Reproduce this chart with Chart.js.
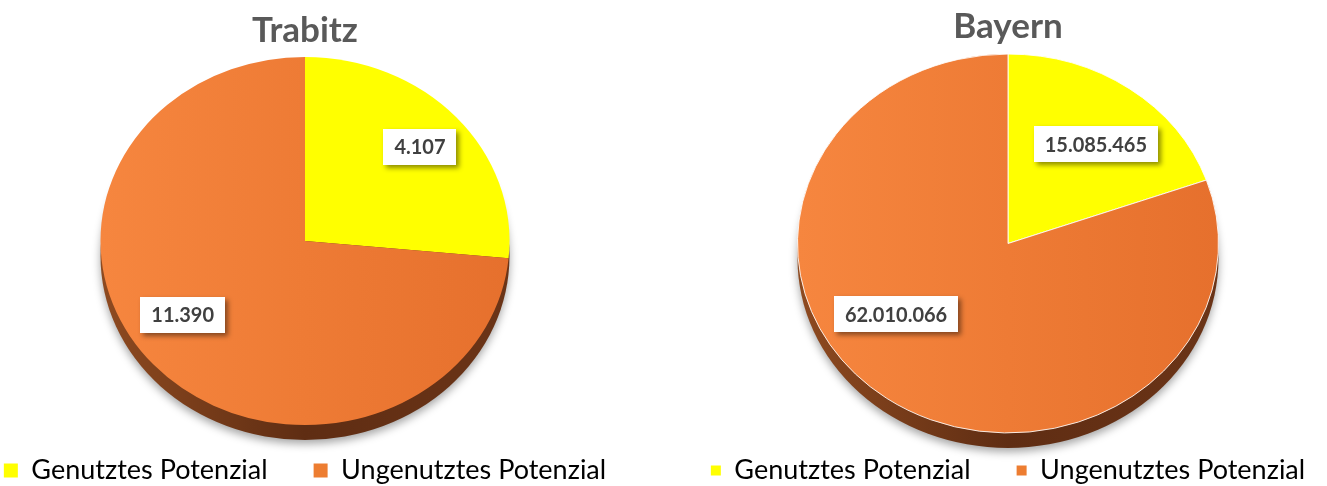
<!DOCTYPE html>
<html><head><meta charset="utf-8">
<script src="https://cdn.jsdelivr.net/npm/chart.js@4.4.1/dist/chart.umd.min.js"></script>
<style>
html,body{margin:0;padding:0;background:#fff;}
#wrap{position:relative;width:1327px;height:486px;overflow:hidden;}
#c1{position:absolute;left:-55px;top:0;}
#c2{position:absolute;left:648px;top:0;}
</style></head><body>
<div id="wrap"><canvas id="c1" width="720" height="486"></canvas><canvas id="c2" width="720" height="486"></canvas></div>
<script>
const categories = ['Genutztes Potenzial', 'Ungenutztes Potenzial'];
const chartTitles = ['Trabitz', 'Bayern'];
const trabitzValues = [4107, 11390];
const bayernValues = [15085465, 62010066];
const sliceColors = ['#FFFF00', '#ED7D31'];

function fmtDE(v) {
  return String(v).replace(/\B(?=(\d{3})+(?!\d))/g, '.');
}

const tiltPlugin = {
  id: 'tilt',
  beforeDatasetsDraw(chart, args, opts) {
    const arc = chart.getDatasetMeta(0).data[0];
    const {x, y, outerRadius} = arc;
    const ctx = chart.ctx;
    ctx.save();
    ctx.translate(x, y); ctx.scale(1, opts.ratio); ctx.translate(-x, -y);
    ctx.save();
    ctx.shadowColor = 'rgba(0,0,0,0.35)';
    ctx.shadowBlur = 9;
    ctx.shadowOffsetY = 4;
    const g = ctx.createLinearGradient(x - outerRadius, 0, x + outerRadius, 0);
    g.addColorStop(0, '#8e4a20');
    g.addColorStop(0.5, '#5f2d13');
    g.addColorStop(1, '#6b3417');
    ctx.fillStyle = g;
    ctx.beginPath();
    ctx.arc(x, y + opts.depth / opts.ratio, outerRadius, 0, Math.PI * 2);
    ctx.fill();
    ctx.restore();
  },
  afterDatasetsDraw(chart) { chart.ctx.restore(); }
};

const labelPlugin = {
  id: 'boxLabels',
  afterDraw(chart, args, opts) {
    const ctx = chart.ctx;
    const ratio = chart.options.plugins.tilt.ratio;
    const meta = chart.getDatasetMeta(0);
    const values = chart.data.datasets[0].data;
    meta.data.forEach((arc, i) => {
      const p = opts.placement[i];
      const ang = arc.startAngle + (arc.endAngle - arc.startAngle) * p.at;
      const px = arc.x + Math.cos(ang) * arc.outerRadius * p.r;
      const py = arc.y + Math.sin(ang) * arc.outerRadius * p.r * ratio;
      const txt = fmtDE(values[i]);
      ctx.save();
      ctx.font = 'bold 20px Lato';
      const tw = ctx.measureText(txt).width;
      const w = tw + 22, h = 36;
      ctx.shadowColor = 'rgba(0,0,0,0.45)';
      ctx.shadowBlur = 5;
      ctx.shadowOffsetX = 3;
      ctx.shadowOffsetY = 3;
      ctx.fillStyle = '#ffffff';
      ctx.fillRect(Math.round(px - w / 2), Math.round(py - h / 2), Math.round(w), h);
      ctx.restore();
      ctx.save();
      ctx.font = 'bold 20px Lato';
      ctx.fillStyle = '#404040';
      ctx.textAlign = 'center';
      ctx.textBaseline = 'middle';
      ctx.fillText(txt, px, py + 1);
      ctx.restore();
    });
  }
};

function faceColor(c) {
  const i = c.dataIndex;
  const chart = c.chart;
  const a = chart.chartArea;
  const arc = chart.getDatasetMeta(0).data[0];
  if (!a || !arc || !arc.outerRadius) return sliceColors[i];
  const R = arc.outerRadius;
  const g = chart.ctx.createLinearGradient(arc.x - R, 0, arc.x + R, 0);
  if (i === 0) { g.addColorStop(0, '#ffff10'); g.addColorStop(1, '#f6f600'); }
  else { g.addColorStop(0, '#f6863f'); g.addColorStop(0.5, '#ee7b35'); g.addColorStop(1, '#e6702d'); }
  return g;
}

function makeChart(id, title, values, cfg) {
  return new Chart(document.getElementById(id), {
    type: 'pie',
    data: {
      labels: categories,
      datasets: [{
        data: values,
        backgroundColor: faceColor,
        borderColor: 'rgba(255,255,255,0.9)',
        borderWidth: cfg.border,
        radius: cfg.radius,
        clip: false
      }]
    },
    plugins: [tiltPlugin, labelPlugin],
    options: {
      responsive: false,
      animation: false,
      devicePixelRatio: 1,
      events: [],
      layout: {padding: {left: 0, right: 0, top: 0, bottom: -8}},
      plugins: {
        tilt: {ratio: 0.9, depth: 15},
        boxLabels: {placement: cfg.placement},
        tooltip: {enabled: false},
        title: {
          display: true,
          text: title,
          color: '#595959',
          font: {family: 'Lato', size: 35, weight: 'bold'},
          padding: cfg.titlePadding
        },
        legend: {
          position: 'bottom',
          labels: {
            color: '#595959',
            font: {family: 'Lato', size: 27},
            boxWidth: cfg.box,
            boxHeight: cfg.box,
            padding: 46,
            generateLabels(chart) {
              return categories.map((t, i) => ({
                text: t, fillStyle: sliceColors[i], strokeStyle: sliceColors[i],
                lineWidth: 0, hidden: false, index: i
              }));
            }
          }
        }
      }
    }
  });
}

makeChart('c1', chartTitles[0], trabitzValues, {
  border: 0, box: 14, radius: 204.5,
  titlePadding: {top: 10, bottom: 19},
  placement: [{at: 0.5, r: 0.76}, {at: 0.532, r: 0.72}]
});
makeChart('c2', chartTitles[1], bayernValues, {
  border: 1, box: 10, radius: 210.5,
  titlePadding: {top: 6, bottom: 28},
  placement: [{at: 0.547, r: 0.67}, {at: 0.568, r: 0.65}]
});
</script>
</body></html>
